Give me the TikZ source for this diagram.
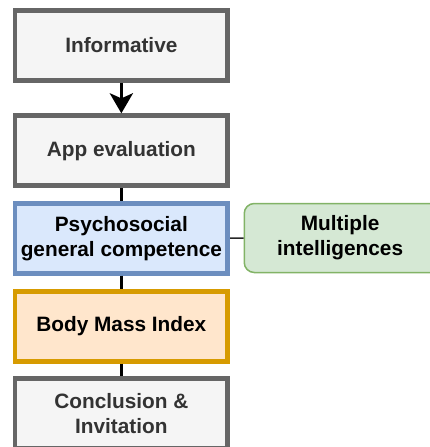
\documentclass[tikz,border=0pt]{standalone}
\usepackage{fontspec}
\setmainfont{Liberation Sans}
\usetikzlibrary{arrows.meta}
\definecolor{greyfill}{HTML}{F5F5F5}
\definecolor{greystroke}{HTML}{666666}
\definecolor{greytext}{HTML}{333333}
\definecolor{bluefill}{HTML}{DAE8FC}
\definecolor{bluestroke}{HTML}{6C8EBF}
\definecolor{orangefill}{HTML}{FFE6CC}
\definecolor{orangestroke}{HTML}{D79B00}
\definecolor{greenfill}{HTML}{D5E8D4}
\definecolor{greenstroke}{HTML}{82B366}
\tikzset{
  box/.style={rectangle, line width=4.7pt, minimum width=212.7pt, minimum height=70pt,
    inner sep=0pt, align=center, font=\fontsize{20.8}{25}\selectfont\bfseries},
  greybox/.style={box, draw=greystroke, fill=greyfill, text=greytext},
  bluebox/.style={box, draw=bluestroke, fill=bluefill, text=black},
  orangebox/.style={box, draw=orangestroke, fill=orangefill, text=black},
  greenbox/.style={rectangle, rounded corners=10pt, line width=1.5pt, draw=greenstroke, fill=greenfill,
    minimum width=212.7pt, minimum height=69pt, inner sep=0pt, align=center, text=black,
    font=\fontsize{20.8}{25}\selectfont\bfseries},
  link/.style={line width=3.5pt, draw=black},
  thinlink/.style={line width=1.6pt, draw=black!85},
}
\begin{document}
\begin{tikzpicture}[x=1pt,y=-1pt]
\useasboundingbox (0,0) rectangle (430,447);
\clip (0,0) rectangle (430,447);
\node[greybox] (b1) at (121.35,45.5) {Informative};
\node[greybox] (b2) at (121.35,150.7) {App evaluation};
\node[bluebox] (b3) at (121.35,238.3) {Psychosocial\\general competence};
\node[orangebox] (b4) at (121.35,326.2) {Body Mass Index};
\node[greybox] (b5) at (121.35,413.4) {Conclusion \&\\Invitation};
\node[greenbox] (g) at (350.6,238) {\hspace*{-21pt}Multiple\\\hspace*{-21pt}intelligences};
\draw[link, -{Stealth[length=20pt,width=23pt,inset=5pt]}] (b1) -- (b2);
\draw[link] (b2) -- (b3);
\draw[link] (b3) -- (b4);
\draw[link] (b4) -- (b5);
\draw[thinlink] (b3) -- (g);
\end{tikzpicture}
\end{document}
